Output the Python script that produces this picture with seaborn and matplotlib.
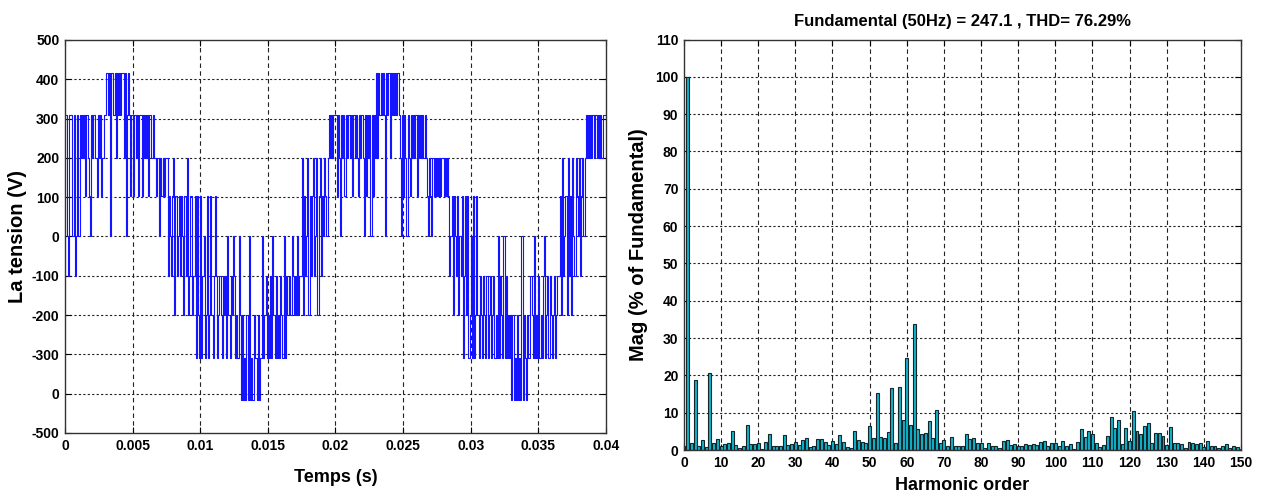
import numpy as np
import pandas as pd
import matplotlib
matplotlib.use("Agg")
import matplotlib.pyplot as plt
import seaborn as sns
from matplotlib import font_manager

# ---------------- data ----------------
# multilevel inverter output: level index per 1/12 ms sample
sample_ms = 1.0 / 12.0
level_volts = {-4: -415, -3: -308, -2: -200, -1: -100, 0: 0, 1: 102, 2: 200, 3: 308, 4: 415}
period1_levels = [
    3, 3, 0, -1, 3, 3, 0, 0, 3, -1, 0, 3,
    0, 3, 2, 3, 2, 3, 1, 3, 2, 1, 0, 3, 2, 3, 3, 2, 1, 3, 2, 3, 1, 2, 2, 3,
    4, 4, 3, 4, 0, 4, 4, 3, 4, 2, 4, 3, 4, 3, 4, 4, 2, 4, 0, 3, 4, 3,
    1, 3, 1, 3, 3, 2, 3, 1, 3, 3, 1, 3, 2, 3, 2, 3, 1, 3, 2, 2, 3, 2,
    2, 1, 2, 0, 2, 1, 1, 2, 1, 2,
    2, -1, 1, 0, -1, 1, 2, -2, 1, -1, 0, 1, -1, 1, 0, -2, 1, -1, 2, -2, -1, 1,
    1, -2, -1, 1, -3, 1, -2, -3, 1, -3, -1, 0, -3, -2, 1, -3, -2, 1, -2, -3, -1, 1,
    -1, -3, -2, -1, -2, -3, -1, -2, -1, -3, 0, -2, -3, -1, -2, 0, -1, -3, -2, -3, 0, -2,
    -4, -2, -4, -3, -4, -2, -4, 0, -4, -3, -4, -4, -2, -3, -4, -2, -4, -3,
    -3, 0, -3, -2, -1, -3, -2, -3, -1, -3, 0, -2, -3, -1, -3, -2, -3, -1, -2, -3, 0, -3, -1, -2,
    -2, -1, -2, 0, -1, -2, -1, -2, 0, -2, -1, -1,
    2, -2, 1, -1, 0, 2, -2, 1, -1, 1, 2, -1, 0, 2, -2, 1, 2, -1, 1, 0, 2, 1, 0, 2,
    3, 2, 3, 2, 3, 3,
]
period2_levels = [
    3, 1, 3, 2, 0, 3, 2, 3, 1, 3, 2, 3,
    3, 2, 3, 1, 3, 2, 3, 2, 1, 3, 2, 3, 2, 0, 3, 1, 3, 2, 3, 0, 3, 1, 3, 2,
    4, 2, 4, 3, 4, 3, 4, 3, 0, 4, 3, 4, 2, 4, 3, 4, 3, 4, 3, 4,
    3, 2, 0, 3, 1, 3, 2, 0, 3, 2, 1, 3, 2, 3, 2, 3, 1, 3, 2, 3, 2, 3, 2, 3,
    2, 1, 0, 2, 1, 0, 2, 1, 2, 1, 2, 1, 2, 1, 2, 2, 1, 2, 1, 2,
    1, -1, 0, 1, -2, 1, 0, -1, 1, -2, 0, -1,
    1, -3, -1, 1, -2, 1, -3, -2, 0, -3, 1, -3, -2, 1, -2, -3, -1, -2, -3, -1, -2, -3, -1, -3, -2, -1, -3, -2,
    -1, -3, -2, -3, 0, -3, -1, -2, -3, 0, -3, -1, -3, -2, -3, -2,
    -4, -2, -4, -3, -4, -2, -4, -3, -4, 0, -4, -2, -3, -4, -2, -3,
    -3, -1, -2, -3, 0, -3, -2, -3, -1, -3, -2, -3, -1, 0, -3, -2, -1, -3, -1, -2, -3, -2, -1, -3, -2, -1,
    -1, 1, -2, 2, -1, 0, 1, -2, 2, -1, 1, -2, 2, 0, -1, 2, 1, 0, 2, -1, 1, 2, 0, 2,
    3, 2, 3, 2, 3, 2, 3, 2, 3, 3, 2, 3, 2, 3, 2, 3, 3, 3,
]
volt_ticks = [-500, -400, -300, -200, -100, 0, 100, 200, 300, 400, 500]
volt_tick_labels = ['-500', '0', '-300', '-200', '-100', '0', '100', '200', '300', '400', '500']
time_ticks = [0, 0.005, 0.01, 0.015, 0.02, 0.025, 0.03, 0.035, 0.04]
time_tick_labels = ['0', '0.005', '0.01', '0.015', '0.02', '0.025', '0.03', '0.035', '0.04']

# FFT spectrum (% of fundamental) for harmonic orders 0..150
harmonic_mag = [
    1.0, 100, 1.8, 18.8, 1.2, 2.7, 0.9, 20.6, 1.8, 2.9,          # 0-9
    1.0, 1.5, 1.8, 5.1, 1.4, 0.6, 1.1, 6.6, 1.5, 1.5,            # 10-19
    1.8, 0.4, 2.1, 4.2, 1.0, 1.0, 1.1, 3.9, 1.3, 1.5,            # 20-29
    2.1, 1.3, 2.8, 3.2, 0.7, 1.2, 3.0, 3.0, 2.1, 1.3,            # 30-39
    2.4, 1.5, 4.0, 2.1, 0.7, 0.6, 5.2, 2.8, 2.2, 1.9,            # 40-49
    6.3, 3.1, 15.2, 3.6, 3.1, 4.8, 16.7, 1.9, 17.0, 8.1,         # 50-59
    24.6, 6.7, 33.7, 5.5, 4.3, 4.5, 7.9, 3.1, 10.6, 1.8,         # 60-69
    2.7, 1.2, 3.6, 1.2, 1.2, 1.2, 4.2, 3.0, 3.2, 2.0,            # 70-79
    1.8, 0.5, 1.9, 1.0, 1.0, 0.6, 2.3, 2.8, 1.4, 1.6,            # 80-89
    1.0, 1.0, 1.5, 1.4, 1.6, 1.3, 2.2, 2.3, 1.0, 1.9,            # 90-99
    1.9, 1.0, 2.3, 1.0, 1.6, 0.3, 2.1, 5.6, 3.4, 5.0,            # 100-109
    4.2, 1.8, 0.9, 1.3, 3.7, 8.8, 6.0, 8.0, 1.6, 5.8,            # 110-119
    2.3, 10.4, 5.0, 4.3, 6.4, 7.3, 1.8, 4.6, 4.6, 3.7,           # 120-129
    1.4, 6.2, 2.0, 1.9, 1.5, 0.6, 2.1, 1.8, 1.6, 1.9,            # 130-139
    0.9, 2.5, 1.0, 1.0, 0.6, 1.2, 1.6, 0.6, 1.0, 0.7,            # 140-149
    0.4,                                                         # 150
]
harmonic_order = list(range(len(harmonic_mag)))
fft_title = "Fundamental (50Hz) = 247.1 , THD= 76.29%"

# ---------------- style ----------------
sns.set_theme(style="white")
installed = {f.name for f in font_manager.fontManager.ttflist}
narrow = 'Liberation Sans Narrow' if 'Liberation Sans Narrow' in installed else 'Liberation Sans'
plt.rcParams['font.family'] = [narrow, 'DejaVu Sans']
plt.rcParams.update({'text.color': 'black', 'axes.labelcolor': 'black',
                     'xtick.color': 'black', 'ytick.color': 'black'})

levels = period1_levels + period2_levels + [period2_levels[-1]]
t = np.arange(len(levels)) * sample_ms / 1000.0
v = [level_volts[k] for k in levels]
wave = pd.DataFrame({"t": t, "v": v})
spec = pd.DataFrame({"h": harmonic_order, "mag": harmonic_mag})

fig = plt.figure(figsize=(12.64, 4.95), dpi=100)
ax1 = fig.add_axes([0.0514, 0.1253, 0.4280, 0.7939])
ax2 = fig.add_axes([0.5411, 0.0909, 0.4407, 0.8293])

hgrid = dict(color='#222222', linewidth=0.8, linestyle=(0, (2, 2)))
vgrid = dict(color='#222222', linewidth=0.8, linestyle=(0, (4, 3)))

# ----- left: waveform -----
sns.lineplot(data=wave, x="t", y="v", ax=ax1, color='#1414ff', linewidth=0.8,
             drawstyle='steps-post', estimator=None, sort=False)
ax1.set_xlim(0, 0.04)
ax1.set_ylim(-500, 500)
ax1.set_yticks(volt_ticks)
ax1.set_yticklabels(volt_tick_labels)
ax1.set_xticks(time_ticks)
ax1.set_xticklabels(time_tick_labels)
ax1.set_xlabel("Temps (s)", fontsize=13, fontweight='bold', labelpad=12)
ax1.set_ylabel("La tension (V)", fontsize=14.5, fontweight='bold', labelpad=3,
               family=['Liberation Sans', 'DejaVu Sans'])

# ----- right: spectrum -----
sns.barplot(data=spec, x="h", y="mag", ax=ax2, native_scale=True, width=0.8,
            color='#10b4cc', edgecolor='#14262a', linewidth=0.8, saturation=1)
ax2.set_xlim(0, 150)
ax2.set_ylim(0, 110)
ax2.set_xticks(list(range(0, 151, 10)))
ax2.set_xticklabels([str(x) for x in range(0, 151, 10)])
ax2.set_yticks(list(range(0, 111, 10)))
ax2.set_yticklabels([str(y) for y in range(0, 111, 10)])
ax2.set_xlabel("Harmonic order", fontsize=13, fontweight='bold', labelpad=5)
ax2.set_ylabel("Mag (% of Fundamental)", fontsize=14.5, fontweight='bold', labelpad=5,
               family=['Liberation Sans', 'DejaVu Sans'])
ax2.set_title(fft_title, fontsize=12, fontweight='bold', pad=10)

for ax in (ax1, ax2):
    for x in ax.get_xticks()[1:-1]:
        ax.axvline(x, zorder=0.5, **vgrid)
    for y in ax.get_yticks()[1:-1]:
        ax.axhline(y, zorder=0.5, **hgrid)
    ax.tick_params(direction='in', length=4, width=0.8, colors='#000000',
                   labelsize=10, top=True, right=True, bottom=True, left=True, pad=4)
    for lab in ax.get_xticklabels() + ax.get_yticklabels():
        lab.set_fontweight('bold')
    for s in ax.spines.values():
        s.set_visible(True)
        s.set_color('#333333')
        s.set_linewidth(1.0)

fig.savefig("out.png", dpi=100, facecolor='white')
